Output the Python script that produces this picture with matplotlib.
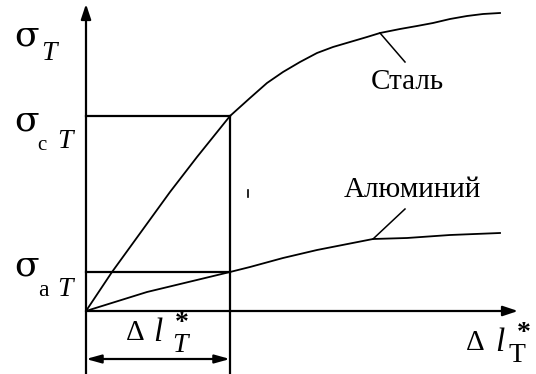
import matplotlib
matplotlib.use("Agg")
import matplotlib.pyplot as plt

# Data (strain, stress) in arbitrary units, origin at the axes crossing
steel_x = [0, 26, 84, 111, 144, 164, 181, 197, 214, 231, 247, 264, 281, 294, 314, 331, 347, 364, 381, 397, 414]
steel_y = [0, 39, 119, 154, 195, 213, 228, 239, 249, 258, 264, 269, 274, 278, 282, 285, 288, 292, 295, 297, 298]
alu_x = [0, 61, 144, 164, 197, 231, 287, 321, 364, 414]
alu_y = [0, 19, 39, 44, 53, 61, 72, 73, 76, 78]
dl_T = 144          # yield elongation
sigma_cT = 195      # steel yield stress
sigma_aT = 39       # aluminium yield stress

SERIF = ["Liberation Serif", "DejaVu Serif"]
SIG = ["DejaVu Serif"]

fig = plt.figure(figsize=(5.36, 3.74), dpi=100)
ax = fig.add_axes([0, 0, 1, 1])
ax.set_xlim(-86, 450)
ax.set_ylim(-63, 311)
ax.axis("off")

k = "black"
lw = 1.6
# axes with arrows
ax.annotate("", xy=(0, 307), xytext=(0, -63),
            arrowprops=dict(arrowstyle="-|>,head_length=0.9,head_width=0.3", color=k, lw=lw, shrinkA=0, shrinkB=0))
ax.annotate("", xy=(432, 0), xytext=(0, 0),
            arrowprops=dict(arrowstyle="-|>,head_length=0.9,head_width=0.3", color=k, lw=lw, shrinkA=0, shrinkB=0))

# rectangle lines
ax.plot([0, dl_T], [sigma_cT, sigma_cT], color=k, lw=lw)
ax.plot([0, dl_T], [sigma_aT, sigma_aT], color=k, lw=lw)
ax.plot([dl_T, dl_T], [sigma_cT, -63], color=k, lw=lw)

# dimension arrow
ax.annotate("", xy=(0, -48), xytext=(dl_T, -48),
            arrowprops=dict(arrowstyle="<|-|>,head_length=0.9,head_width=0.25", color=k, lw=lw, shrinkA=0, shrinkB=0))

# curves
ax.plot(steel_x, steel_y, color=k, lw=1.3)
ax.plot(alu_x, alu_y, color=k, lw=1.3)

# small stray tick
ax.plot([162, 162], [114, 121], color=k, lw=1.2)

# leaders
ax.plot([294, 319], [278, 249], color=k, lw=1.1)
ax.plot([287, 319], [72, 102], color=k, lw=1.1)
ax.text(321, 229, "Сталь", family=SERIF, fontsize=21, ha="center", va="center")
ax.text(326, 121, "Алюминий", family=SERIF, fontsize=21, ha="center", va="center")

# y labels
def sig(x, y):
    ax.text(x, y, "σ", family=SIG, fontsize=26, ha="center", va="center")

sig(-59, 276)
ax.text(-37, 258, "T", family=SERIF, fontsize=20, style="italic", ha="center", va="center")
sig(-59, 191)
ax.text(-44, 166, "c", family=SERIF, fontsize=15, ha="center", va="center")
ax.text(-21, 170, "T", family=SERIF, fontsize=20, style="italic", ha="center", va="center")
sig(-59, 46)
ax.text(-43, 20, "a", family=SERIF, fontsize=17, ha="center", va="center")
ax.text(-21, 21, "T", family=SERIF, fontsize=20, style="italic", ha="center", va="center")

# x labels
ax.text(49, -22, "Δ", family=SERIF, fontsize=21, ha="center", va="center")
ax.text(72, -22, "l", family=SERIF, fontsize=24, style="italic", ha="center", va="center")
ax.text(96, -12, "*", family=SERIF, fontsize=20, weight="bold", ha="center", va="center")
ax.text(94, -35, "T", family=SERIF, fontsize=20, style="italic", ha="center", va="center")

ax.text(389, -32, "Δ", family=SERIF, fontsize=21, ha="center", va="center")
ax.text(414, -32, "l", family=SERIF, fontsize=24, style="italic", ha="center", va="center")
ax.text(438, -22, "*", family=SERIF, fontsize=20, weight="bold", ha="center", va="center")
ax.text(431, -44, "T", family=SERIF, fontsize=20, ha="center", va="center")

fig.savefig("out.png", dpi=100)
